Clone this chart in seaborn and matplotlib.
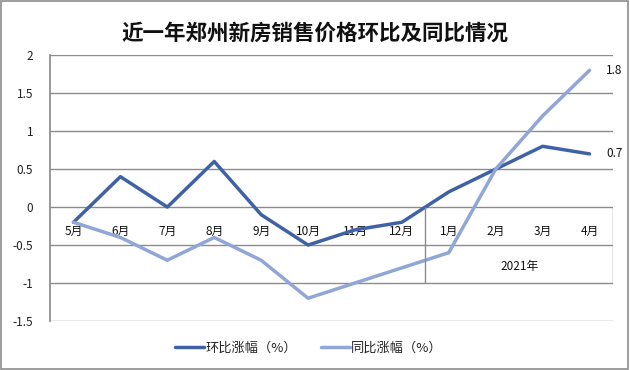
import pandas as pd
import numpy as np
import matplotlib.pyplot as plt
import seaborn as sns

# data
months = ['5月', '6月', '7月', '8月', '9月', '10月', '11月', '12月', '1月', '2月', '3月', '4月']
hb = [-0.2, 0.4, 0.0, 0.6, -0.1, -0.5, -0.3, -0.2, 0.2, 0.5, 0.8, 0.7]
tb = [-0.2, -0.4, -0.7, -0.4, -0.7, -1.2, -1.0, -0.8, -0.6, 0.5, 1.2, 1.8]
year_label = '2021年'
n_2020 = 8  # months before the 2021 group

sns.set_theme(style='white')
plt.rcParams['font.family'] = ['Noto Sans CJK SC', 'DejaVu Sans']

df = pd.DataFrame({'pos': np.arange(len(months)), 'month': months, 'hb': hb, 'tb': tb})

fig = plt.figure(figsize=(6.3, 3.7), dpi=100)
ax = fig.add_axes([0.0794, 0.1324, 0.8936, 0.7186])

c_hb = '#3F62A6'
c_tb = '#8FA6D6'
sns.lineplot(data=df, x='pos', y='hb', ax=ax, color=c_hb, lw=2.5, label='环比涨幅（%）')
sns.lineplot(data=df, x='pos', y='tb', ax=ax, color=c_tb, lw=2.5, label='同比涨幅（%）')

ax.set_xlim(-0.5, len(months) - 0.5)
ax.set_ylim(-1.5, 2)
ax.set_yticks(np.arange(-1.5, 2.01, 0.5))
ax.set_yticklabels(['-1.5', '-1', '-0.5', '0', '0.5', '1', '1.5', '2'], fontsize=8.5, color='#222222')
ax.yaxis.grid(True, color='#8c8c8c', lw=1)
ax.set_axisbelow(True)
ax.tick_params(axis='y', length=0, pad=12)

# month labels hang from the zero line
ax.spines['bottom'].set_position(('data', 0))
ax.spines['bottom'].set_visible(False)
ax.set_xticks(df['pos'])
ax.set_xticklabels(months, fontsize=8.5, color='#111111')
ax.tick_params(axis='x', length=0, pad=13)
for s in ['top', 'right']:
    ax.spines[s].set_visible(False)
ax.spines['left'].set_color('#8c8c8c')
ax.set_xlabel('')
ax.set_ylabel('')

# 2021 group box
ax.vlines([n_2020 - 0.5, len(months) - 0.5], -1, 0, color='#8c8c8c', lw=1)
ax.text((n_2020 + len(months) - 1) / 2, -0.78, year_label, ha='center', va='center', fontsize=8.5, color='#111111')

# end labels
ax.annotate(f'{tb[-1]:g}', (df['pos'].iloc[-1], tb[-1]), xytext=(12, 0), textcoords='offset points',
            ha='left', va='center', fontsize=8.5, color='#111111')
ax.annotate(f'{hb[-1]:g}', (df['pos'].iloc[-1], hb[-1]), xytext=(12, 0), textcoords='offset points',
            ha='left', va='center', fontsize=8.5, color='#111111')

fig.suptitle('近一年郑州新房销售价格环比及同比情况', y=0.94, fontsize=15.5, fontweight='bold', color='#111111')

leg = ax.legend(loc='center', bbox_to_anchor=(0.49, 0.059), bbox_transform=fig.transFigure,
                ncol=2, frameon=False, fontsize=9.5, handlelength=2.2, handletextpad=0.1, columnspacing=1.8)

fig.patches.append(plt.Rectangle((0.002, 0.003), 0.995, 0.993, transform=fig.transFigure,
                                 fill=False, edgecolor='#8c8c8c', lw=1.2))

fig.savefig('out.png', dpi=100)
